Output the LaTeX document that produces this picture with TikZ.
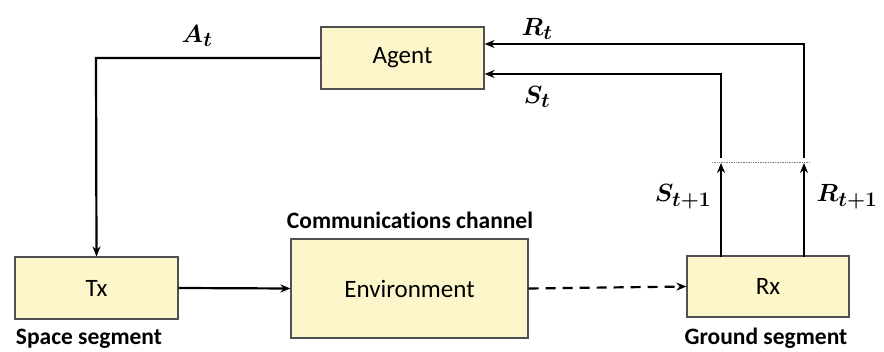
\documentclass[tikz,border=0pt]{standalone}
\usepackage{fontspec}
\setmainfont{Carlito}[Ligatures=NoCommon]
\usepackage{bm}
\usetikzlibrary{arrows.meta}
\definecolor{boxfill}{HTML}{FEF6CB}
\definecolor{boxdraw}{HTML}{505050}
\tikzset{
  blk/.style={draw=boxdraw, fill=boxfill, line width=1.2pt, inner sep=0pt, font=\fontsize{25}{29}\selectfont},
  conn/.style={line width=2.2pt, -{Stealth[length=10pt,width=8pt]}},
  lbl/.style={font=\fontsize{30}{34}\selectfont},
  captxt/.style={font=\fontsize{23.5}{27}\selectfont\bfseries}
}
\begin{document}
\begin{tikzpicture}[x=1pt,y=-1pt]
\useasboundingbox (0,0) rectangle (884,352);
\node[blk, minimum width=163pt, minimum height=62pt] (agent) at (402.5,58) {Agent};
\node[blk, minimum width=163pt, minimum height=62pt] (tx) at (96.5,288) {Tx};
\node[blk, minimum width=237pt, minimum height=99pt] (env) at (409.5,288.5) {Environment};
\node[blk, minimum width=162pt, minimum height=61pt] (rx) at (768,286.5) {Rx};

\coordinate (sb) at (721,257);
\coordinate (rb) at (804,257);
\coordinate (sm) at (721,163);
\coordinate (rm) at (804,163);
\coordinate (st) at (721,158);
\coordinate (rt) at (804,158);
\coordinate (dl) at (712,162);
\coordinate (dr) at (809,162);
\coordinate (ac) at (96,58);

\draw[conn] (tx.east) -- (env.west);
\draw[conn, dashed, dash pattern=on 10pt off 7pt] (env.east) -- (rx.west);
\draw[conn] (agent.west) -- (ac) -- (tx.north);
\draw[conn] (sb) -- (sm);
\draw[conn] (rb) -- (rm);
\draw[conn] (st) |- ([yshift=-16pt]agent.east);
\draw[conn] (rt) |- ([yshift=14pt]agent.east);
\draw[densely dotted, line width=0.7pt, gray] (dl) -- (dr);

\node[lbl] (lA) at (197,36) {$\bm{A_t}$};
\node[lbl] (lR) at (537,29) {$\bm{R_t}$};
\node[lbl] (lS) at (537,97) {$\bm{S_t}$};
\node[lbl] (lS1) at (683,197) {$\bm{S_{t+1}}$};
\node[lbl] (lR1) at (847,197) {$\bm{R_{t+1}}$};
\node[captxt] (cc) at (410,220) {Communications channel};
\node[captxt] (ss) at (89,339) {Space segment};
\node[captxt] (gs) at (766,338) {Ground segment};
\end{tikzpicture}
\end{document}
